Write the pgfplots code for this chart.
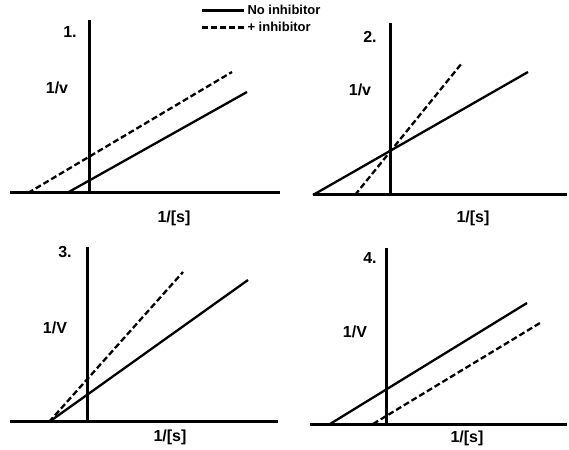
\documentclass[border=0pt]{standalone}
\usepackage{fontspec}
\setmainfont{Liberation Sans}
\usepackage{pgfplots}
\pgfplotsset{compat=1.18}

% one Lineweaver-Burk panel: units are reference pixels
\pgfplotsset{
  lbpanel/.style={
    anchor=origin, x=1pt, y=1pt, ymin=0,
    axis lines=middle, ticks=none, clip=false,
    axis line style={line width=3pt,-},
  },
  noinh/.style={black, line width=2.3pt},
  inh/.style={black, line width=2.3pt, dash pattern=on 6pt off 3pt},
}
\tikzset{lab/.style={font=\fontsize{16}{18}\selectfont\bfseries, inner sep=0pt}}

\begin{document}
\begin{tikzpicture}
\path (0,0) rectangle (569pt,449pt);

% panel 1
\begin{axis}[lbpanel, at={(89pt,256pt)}, xmin=-79, xmax=191, ymax=173,
  legend style={draw=none, fill=none, at={(axis cs:112,174)}, anchor=west,
    font=\fontsize{13}{14}\selectfont\bfseries, row sep=2pt, inner sep=0pt},
  legend cell align=left,
  legend image code/.code={\draw[#1] (0pt,0pt) -- (42pt,0pt);}]
\addplot[noinh] coordinates {(-22,0) (158,101)};
\addplot[inh] coordinates {(-61,0) (143,121)};
\legend{No inhibitor, + inhibitor}
\node[lab] at (axis cs:-19,161) {1.};
\node[lab] at (axis cs:-32,105) {1/v};
\node[lab] at (axis cs:85,-25) {1/[s]};
\end{axis}

% panel 2
\begin{axis}[lbpanel, at={(390pt,254pt)}, xmin=-77, xmax=177, ymax=172]
\addplot[noinh] coordinates {(-77,0) (138,123)};
\addplot[inh] coordinates {(-35,0) (72,132)};
\node[lab] at (axis cs:-20,158) {2.};
\node[lab] at (axis cs:-30,105) {1/v};
\node[lab] at (axis cs:83,-23) {1/[s]};
\end{axis}

% panel 3
\begin{axis}[lbpanel, at={(87pt,27pt)}, xmin=-77, xmax=191, ymax=175]
\addplot[noinh] coordinates {(-38,0) (161,142)};
\addplot[inh] coordinates {(-38,0) (96,150)};
\node[lab] at (axis cs:-22,170) {3.};
\node[lab] at (axis cs:-32,94) {1/V};
\node[lab] at (axis cs:83,-15) {1/[s]};
\end{axis}

% panel 4
\begin{axis}[lbpanel, at={(386pt,25pt)}, xmin=-76, xmax=181, ymax=176]
\addplot[noinh] coordinates {(-56,0) (141,121)};
\addplot[inh] coordinates {(-13,0) (154,101)};
\node[lab] at (axis cs:-16,166) {4.};
\node[lab] at (axis cs:-31,92) {1/V};
\node[lab] at (axis cs:81,-14) {1/[s]};
\end{axis}
\end{tikzpicture}
\end{document}
